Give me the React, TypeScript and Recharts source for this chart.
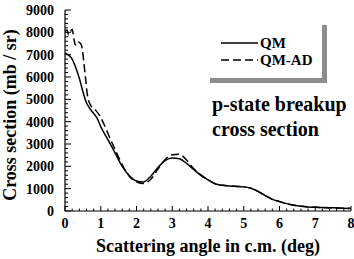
import React from 'react';
import { LineChart, Line, XAxis, YAxis } from 'recharts';

const qmAngles = [0, 0.1, 0.2, 0.3, 0.4, 0.5, 0.6, 0.7, 0.8, 0.9, 1.0, 1.2, 1.4, 1.6, 1.8, 2.0, 2.2, 2.4, 2.6, 2.8, 3.0, 3.2, 3.4, 3.6, 3.8, 4.0, 4.2, 4.4, 4.6, 4.8, 5.0, 5.2, 5.4, 5.6, 5.8, 6.0, 6.2, 6.4, 6.6, 6.8, 7.0, 7.5, 8.0];
const qmValues = [7060, 6980, 6800, 6430, 5950, 5350, 4850, 4580, 4370, 4150, 3780, 3200, 2600, 2000, 1580, 1340, 1300, 1560, 1950, 2260, 2370, 2340, 2130, 1860, 1600, 1400, 1220, 1150, 1120, 1100, 1080, 1020, 880, 690, 520, 420, 330, 260, 210, 180, 165, 140, 115];

const adAngles = [0, 0.06, 0.1, 0.2, 0.25, 0.29, 0.34, 0.43, 0.48, 0.52, 0.57, 0.62, 0.71, 0.85, 0.99, 1.1, 1.26, 1.45, 1.63, 1.8, 2.0, 2.2, 2.4, 2.6, 2.8, 3.0, 3.2, 3.4, 3.6, 3.8, 4.0, 4.2, 4.4, 4.6, 4.8, 5.0, 5.2, 5.4, 5.6, 5.8, 6.0, 6.2, 6.4, 6.6, 6.8, 7.0, 7.5, 8.0];
const adValues = [8030, 8100, 7880, 8140, 7700, 7430, 7580, 7510, 7290, 6760, 6010, 5270, 4750, 4520, 4220, 3850, 3250, 2580, 1980, 1560, 1310, 1230, 1420, 1880, 2300, 2520, 2540, 2280, 1900, 1620, 1400, 1220, 1150, 1120, 1100, 1080, 1020, 880, 690, 520, 420, 330, 260, 210, 180, 165, 140, 115];

const xMajorTicks = [0, 1, 2, 3, 4, 5, 6, 7, 8];
const yMajorTicks = [0, 1000, 2000, 3000, 4000, 5000, 6000, 7000, 8000, 9000];
const xMinorStep = 0.2;
const yMinorStep = 200;

const seriesNames = ['QM', 'QM-AD'];
const xTitle = 'Scattering angle in c.m. (deg)';
const yTitle = 'Cross section (mb / sr)';
const noteLines = ['p-state breakup', 'cross section'];

const FONT = '"Liberation Serif", "Times New Roman", serif';

const qmData = qmAngles.map((x, i) => ({ x, v: qmValues[i] }));
const adData = adAngles.map((x, i) => ({ x, v: adValues[i] }));

const xAllTicks: number[] = [];
for (let i = 0; i <= 40; i++) xAllTicks.push(Math.round(i * xMinorStep * 10) / 10);
const yAllTicks: number[] = [];
for (let i = 0; i <= 45; i++) yAllTicks.push(i * yMinorStep);

const XTick = (props: any) => {
  const { x, y, payload } = props;
  const v = payload.value;
  const major = xMajorTicks.includes(v);
  return (
    <g>
      <line x1={x} x2={x} y1={y} y2={y - (major ? 5 : 2.5)} stroke="#000" strokeWidth={1} />
      {major && (
        <text x={x} y={y + 17} textAnchor="middle" fontFamily={FONT} fontWeight="bold" fontSize={14} fill="#000">
          {v}
        </text>
      )}
    </g>
  );
};

const YTick = (props: any) => {
  const { x, y, payload } = props;
  const v = payload.value;
  const major = yMajorTicks.includes(v);
  return (
    <g>
      <line x1={x} x2={x + (major ? 6 : 3)} y1={y} y2={y} stroke="#000" strokeWidth={1} />
      {major && (
        <text x={x - 11} y={y + 5} textAnchor="end" fontFamily={FONT} fontWeight="bold" fontSize={14} fill="#000">
          {v}
        </text>
      )}
    </g>
  );
};

const LegendBox = () => (
  <div
    style={{
      position: 'absolute',
      left: 205,
      top: 20,
      width: 117,
      height: 58,
      background: '#fff',
      boxShadow: '5px 5px 0 #8c8c8c',
    }}
  >
    <svg width={117} height={58} style={{ position: 'absolute', left: 0, top: 0 }}>
      <line x1={16} x2={53} y1={23} y2={23} stroke="#000" strokeWidth={1.5} />
      <line x1={16} x2={53} y1={40} y2={40} stroke="#000" strokeWidth={1.5} strokeDasharray="8 4" />
      <text x={55} y={28} fontFamily={FONT} fontWeight="bold" fontSize={15} fill="#000">{seriesNames[0]}</text>
      <text x={55} y={45} fontFamily={FONT} fontWeight="bold" fontSize={15} fill="#000">{seriesNames[1]}</text>
    </svg>
  </div>
);

export default function App() {
  return (
    <div style={{ position: 'absolute', left: 0, top: 0, width: 354, height: 259, background: '#fff' }}>
      <LineChart width={354} height={259} margin={{ top: 10, right: 3, bottom: 0, left: 0 }}>
        <XAxis
          xAxisId="b"
          dataKey="x"
          type="number"
          domain={[0, 8]}
          ticks={xAllTicks}
          interval={0}
          tick={<XTick />}
          tickSize={0}
          tickMargin={0}
          tickLine={false}
          axisLine={{ stroke: '#000', strokeWidth: 1.2 }}
          height={48}
          allowDataOverflow
        />
        <XAxis xAxisId="t" orientation="top" type="number" dataKey="x" domain={[0, 8]} tick={false} tickLine={false} axisLine={{ stroke: '#000', strokeWidth: 1.2 }} height={0} />
        <YAxis
          yAxisId="l"
          type="number"
          domain={[0, 9000]}
          ticks={yAllTicks}
          interval={0}
          tick={<YTick />}
          tickSize={0}
          tickMargin={0}
          tickLine={false}
          axisLine={{ stroke: '#000', strokeWidth: 1.2 }}
          width={65}
          allowDataOverflow
        />
        <YAxis yAxisId="r" orientation="right" type="number" domain={[0, 9000]} tick={false} tickLine={false} axisLine={{ stroke: '#000', strokeWidth: 1.2 }} width={0} />
        <Line xAxisId="b" yAxisId="l" data={qmData} dataKey="v" type="monotone" stroke="#000" strokeWidth={1.5} dot={false} isAnimationActive={false} name={seriesNames[0]} />
        <Line xAxisId="b" yAxisId="l" data={adData} dataKey="v" type="monotone" stroke="#000" strokeWidth={1.5} strokeDasharray="8 4" dot={false} isAnimationActive={false} name={seriesNames[1]} />
      </LineChart>
      <LegendBox />
      <svg width={354} height={259} style={{ position: 'absolute', left: 0, top: 0, pointerEvents: 'none' }}>
        <text x={208} y={252} textAnchor="middle" fontFamily={FONT} fontWeight="bold" fontSize={18} fill="#000">{xTitle}</text>
        <text x={16} y={115} transform="rotate(-90 16 115)" textAnchor="middle" fontFamily={FONT} fontWeight="bold" fontSize={18} fill="#000">{yTitle}</text>
        <text x={212} y={111} fontFamily={FONT} fontWeight="bold" fontSize={20} fill="#000">{noteLines[0]}</text>
        <text x={212} y={136} fontFamily={FONT} fontWeight="bold" fontSize={20} fill="#000">{noteLines[1]}</text>
      </svg>
    </div>
  );
}
